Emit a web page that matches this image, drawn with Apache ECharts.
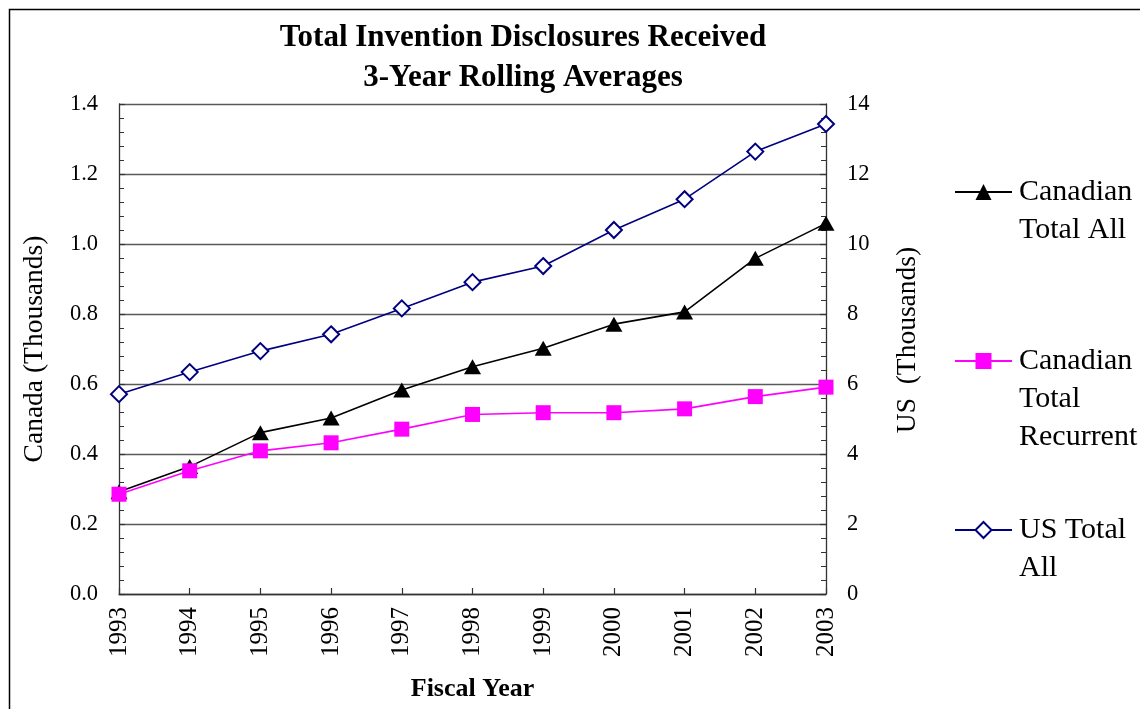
<!DOCTYPE html>
<html>
<head>
<meta charset="utf-8">
<script src="https://cdn.jsdelivr.net/npm/echarts@6/dist/echarts.min.js"></script>
<style>
html,body{margin:0;padding:0;background:#fff;}
#chart{width:1140px;height:709px;}
</style>
</head>
<body>
<div id="chart"></div>
<script>
const years = ['1993','1994','1995','1996','1997','1998','1999','2000','2001','2002','2003'];
const canadianTotalAll = [0.292, 0.364, 0.461, 0.503, 0.583, 0.649, 0.702, 0.771, 0.806, 0.959, 1.059];
const canadianTotalRecurrent = [0.285, 0.352, 0.409, 0.432, 0.471, 0.513, 0.518, 0.518, 0.529, 0.564, 0.591];
const usTotalAll = [5.71, 6.34, 6.94, 7.42, 8.16, 8.91, 9.37, 10.40, 11.28, 12.64, 13.43];
const seriesNames = ['Canadian Total All', 'Canadian Total Recurrent', 'US Total All'];
const legendLabels = {
  'Canadian Total All': '\nCanadian\nTotal All',
  'Canadian Total Recurrent': '\n\nCanadian\nTotal\nRecurrent',
  'US Total All': '\nUS Total\nAll'
};

const FONT = "'Liberation Serif', 'Times New Roman', serif";
const chart = echarts.init(document.getElementById('chart'), null, {renderer: 'canvas'});

const axisLineStyle = {color: '#333', width: 1.3};
const option = {
  backgroundColor: '#fff',
  animation: false,
  graphic: [{
    type: 'rect', left: 7, top: 7, silent: true,
    shape: {width: 1150, height: 720},
    style: {fill: 'none', stroke: '#000', lineWidth: 1.5}
  }],
  title: {
    text: 'Total Invention Disclosures Received\n3-Year Rolling Averages',
    left: 523, top: 18,
    textAlign: 'center',
    padding: 0,
    textStyle: {fontFamily: FONT, fontWeight: 'bold', fontSize: 31, lineHeight: 40, color: '#000'}
  },
  legend: {
    orient: 'vertical',
    left: 954, top: 135,
    padding: 0,
    itemGap: 17,
    itemWidth: 57, itemHeight: 20,
    data: seriesNames,
    formatter: name => legendLabels[name],
    textStyle: {fontFamily: FONT, fontSize: 30, lineHeight: 38, color: '#000', padding: [0, 0, 0, 2]}
  },
  grid: {left: 119, right: 314, top: 104, bottom: 115, containLabel: false},
  xAxis: {
    type: 'category',
    data: years,
    boundaryGap: false,
    name: 'Fiscal Year',
    nameLocation: 'middle',
    nameGap: 82,
    nameTextStyle: {fontFamily: FONT, fontWeight: 'bold', fontSize: 26, color: '#000'},
    axisLine: {lineStyle: axisLineStyle},
    axisTick: {inside: true, length: 6, lineStyle: {color: '#333', width: 1.2}, alignWithLabel: true},
    axisLabel: {rotate: 90, margin: 13, fontFamily: FONT, fontSize: 25, color: '#000', interval: 0},
    splitLine: {show: false}
  },
  yAxis: [{
    type: 'value',
    min: 0, max: 1.4, interval: 0.2,
    name: 'Canada (Thousands)',
    nameLocation: 'middle',
    nameGap: 70,
    nameTextStyle: {fontFamily: FONT, fontSize: 27.5, color: '#000'},
    axisLine: {show: true, lineStyle: axisLineStyle},
    axisTick: {show: true, inside: true, length: 6, lineStyle: {color: '#333', width: 1.2}},
    minorTick: {show: true, splitNumber: 5, length: 5, lineStyle: {color: '#333', width: 1}},
    axisLabel: {margin: 21, fontFamily: FONT, fontSize: 22.5, color: '#000', formatter: v => v.toFixed(1)},
    splitLine: {show: true, lineStyle: {color: '#5a5a5a', width: 1.3}}
  }, {
    type: 'value',
    min: 0, max: 14, interval: 2,
    name: 'US  (Thousands)',
    nameLocation: 'middle',
    nameGap: 68,
    nameTextStyle: {fontFamily: FONT, fontSize: 27.5, color: '#000', padding: [0, 0, 0, 18]},
    axisLine: {show: true, lineStyle: axisLineStyle},
    axisTick: {show: true, inside: true, length: 6, lineStyle: {color: '#333', width: 1.2}},
    minorTick: {show: true, splitNumber: 5, length: 5, lineStyle: {color: '#333', width: 1}},
    axisLabel: {margin: 21, fontFamily: FONT, fontSize: 22.5, color: '#000'},
    splitLine: {show: false}
  }],
  series: [{
    name: seriesNames[0],
    type: 'line',
    yAxisIndex: 0,
    data: canadianTotalAll,
    symbol: 'triangle',
    symbolSize: [17, 15],
    showAllSymbol: true,
    lineStyle: {color: '#000', width: 1.6},
    itemStyle: {color: '#000', borderColor: '#000', borderWidth: 0},
    z: 3
  }, {
    name: seriesNames[1],
    type: 'line',
    yAxisIndex: 0,
    data: canadianTotalRecurrent,
    symbol: 'rect',
    symbolSize: 15,
    showAllSymbol: true,
    lineStyle: {color: '#ff00ff', width: 1.6},
    itemStyle: {color: '#ff00ff', borderColor: '#ff00ff', borderWidth: 0},
    z: 4
  }, {
    name: seriesNames[2],
    type: 'line',
    yAxisIndex: 1,
    data: usTotalAll,
    symbol: 'emptyDiamond',
    symbolSize: 16,
    showAllSymbol: true,
    lineStyle: {color: '#000080', width: 1.6},
    itemStyle: {color: '#000080', borderColor: '#000080', borderWidth: 1.6},
    z: 5
  }]
};
chart.setOption(option);
</script>
</body>
</html>
